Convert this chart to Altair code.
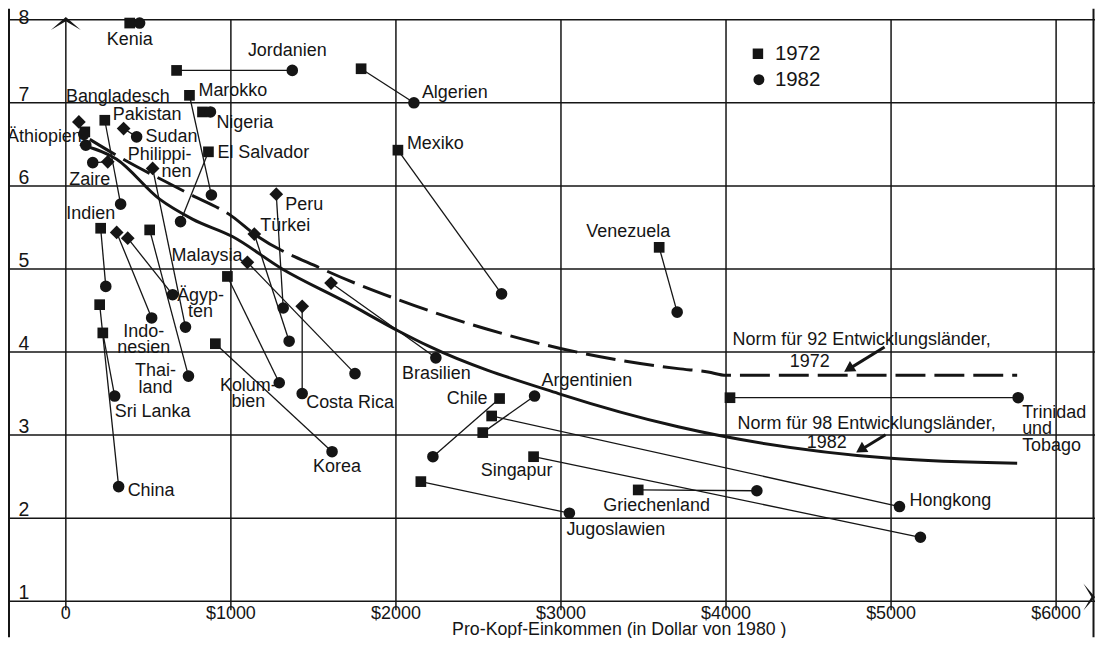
import altair as alt
import pandas as pd

# ---------------- data ----------------
COUNTRIES = ["Kenia", "Jordanien", "Marokko", "Nigeria", "El Salvador", "Bangladesch",
             "Äthiopien", "Pakistan", "Sudan", "Zaire", "Philippinen", "Indien",
             "Indonesien", "Ägypten", "Thailand", "China", "Sri Lanka", "Peru", "Türkei",
             "Malaysia", "Kolumbien", "Costa Rica", "Brasilien", "Korea", "Mexiko",
             "Algerien", "Venezuela", "Chile", "Argentinien", "Hongkong", "Singapur",
             "Griechenland", "Jugoslawien", "Trinidad und Tobago"]
INCOME_1972 = [387, 671, 749, 828, 864, 79, 115, 236, 350, 254, 526, 211, 308, 375, 508,
               205, 224, 1275, 1142, 1100, 979, 1432, 1607, 906, 2012, 1789, 3595, 2628,
               2526, 2580, 2834, 3468, 2151, 4024]
FERTILITY_1972 = [7.96, 7.39, 7.09, 6.89, 6.41, 6.77, 6.65, 6.79, 6.69, 6.29, 6.21, 5.49,
                  5.44, 5.37, 5.47, 4.57, 4.23, 5.90, 5.42, 5.08, 4.91, 4.55, 4.83, 4.10,
                  6.43, 7.41, 5.26, 3.44, 3.03, 3.23, 2.74, 2.34, 2.44, 3.45]
INCOME_1982 = [447, 1372, 882, 876, 695, 121, 109, 332, 429, 163, 725, 242, 520, 647, 743,
               320, 296, 1317, 1353, 1752, 1293, 1432, 2242, 1613, 2640, 2109, 3704, 2224,
               2840, 5051, 5178, 4187, 3051, 5770]
FERTILITY_1982 = [7.96, 7.39, 5.89, 6.89, 5.57, 6.49, 6.62, 5.78, 6.59, 6.28, 4.30, 4.79,
                  4.41, 4.69, 3.71, 2.38, 3.47, 4.53, 4.13, 3.74, 3.63, 3.50, 3.93, 2.80,
                  4.70, 7.00, 4.48, 2.74, 3.47, 2.14, 1.77, 2.33, 2.06, 3.45]

NORM72_INCOME = [145, 296, 731, 1009, 1142, 1553, 2000, 2544, 3003, 3710, 3891, 4000, 5764]
NORM72_FERT = [6.56, 6.38, 5.92, 5.63, 5.42, 5.00, 4.64, 4.28, 4.04, 3.80, 3.76, 3.72, 3.72]
NORM82_INCOME = [85, 308, 568, 767, 1009, 1311, 1698, 2018, 2199, 2985, 3710, 4997, 5764]
NORM82_FERT = [6.50, 6.32, 5.84, 5.60, 5.39, 5.00, 4.60, 4.25, 4.07, 3.50, 3.10, 2.72, 2.66]

X_TICKS = [0, 1000, 2000, 3000, 4000, 5000, 6000]
X_TICK_LABELS = ["0", "$1000", "$2000", "$3000", "$4000", "$5000", "$6000"]
Y_TICKS = [1, 2, 3, 4, 5, 6, 7, 8]
Y_TICK_LABELS = ["1", "2", "3", "4", "5", "6", "7", "8"]
X_TITLE = "Pro-Kopf-Einkommen (in Dollar von 1980 )"
LEGEND_LABELS = ["1972", "1982"]
NORM_TEXTS = ["Norm für 92 Entwicklungsländer,", "1972",
              "Norm für 98 Entwicklungsländer,", "1982"]

# ---------------- styles / layout ----------------
FONT = "Liberation Sans"
INK = "#151515"
W, H = 1090, 630
X0_PX, PX_PER_X = 58.0, 0.1655      # chart pixel of $0, pixels per dollar
Y1_PX, PX_PER_Y = 594.0, 83.3       # chart pixel of fertility 1, pixels per unit
X_MIN = -X0_PX / PX_PER_X
X_MAX = X_MIN + W / PX_PER_X
Y_MAX = 1 + Y1_PX / PX_PER_Y
Y_MIN = Y_MAX - H / PX_PER_Y

DIAMOND_1972 = {"Bangladesch", "Sudan", "Zaire", "Philippinen", "Indonesien", "Ägypten",
                "Peru", "Türkei", "Malaysia", "Costa Rica", "Brasilien"}
DISPLAY = {"Philippinen": "Philippi-\nnen", "Ägypten": "Ägyp-\nten",
           "Indonesien": "Indo-\nnesien", "Thailand": "Thai-\nland",
           "Kolumbien": "Kolum-\nbien", "Trinidad und Tobago": "Trinidad\nund\nTobago"}
# anchor year, pixel offset dx, dy (of the first line), alignment
LABEL_LAYOUT = {
    "Kenia": ("72", 0, 17, "center"), "Jordanien": ("82", -5, -19, "center"),
    "Bangladesch": ("72", -13, -25, "left"), "Marokko": ("72", 9, -4, "left"),
    "Pakistan": ("72", 8, -5, "left"), "Nigeria": ("82", 6, 11, "left"),
    "Äthiopien": ("72", -3, 5, "right"), "Sudan": ("82", 9, 0, "left"),
    "Philippinen": ("72", 39, -13, "right"), "El Salvador": ("72", 9, 1, "left"),
    "Zaire": ("82", -3, 17, "center"), "Peru": ("72", 9, 11, "left"),
    "Indien": ("72", -10, -14, "center"), "Türkei": ("72", 6, -8, "left"),
    "Malaysia": ("72", -5, -6, "right"), "Ägypten": ("82", 28, 1, "center"),
    "Indonesien": ("82", -8, 14, "center"), "Thailand": ("82", -33, -5, "center"),
    "Kolumbien": ("82", -31, 3, "center"), "Costa Rica": ("82", 4, 9, "left"),
    "Sri Lanka": ("82", 0, 16, "left"), "China": ("82", 9, 4, "left"),
    "Korea": ("82", 5, 15, "center"), "Brasilien": ("82", -34, 16, "left"),
    "Argentinien": ("82", 7, -15, "left"), "Chile": ("72", -12, 0, "right"),
    "Singapur": ("72", -17, 14, "center"), "Griechenland": ("72", -35, 16, "left"),
    "Jugoslawien": ("82", -3, 17, "left"), "Mexiko": ("72", 9, -6, "left"),
    "Algerien": ("82", 8, -10, "left"), "Venezuela": ("72", -31, -15, "center"),
    "Hongkong": ("82", 10, -6, "left"), "Trinidad und Tobago": ("82", 4, 15, "left"),
}
Y_TICK_DY = [-2, -2, -2, -2, -2, -2, -2, 4]


def off_x(px):
    return px / PX_PER_X


def off_y(px):
    return -px / PX_PER_Y


def at_x(px):
    return (px - X0_PX) / PX_PER_X


def at_y(py):
    return 1 + (Y1_PX - py) / PX_PER_Y


xs = alt.Scale(domain=[X_MIN, X_MAX], nice=False, zero=False)
ys = alt.Scale(domain=[Y_MIN, Y_MAX], nice=False, zero=False)


def X(f):
    return alt.X(f, type="quantitative", scale=xs, axis=None)


def Y(f):
    return alt.Y(f, type="quantitative", scale=ys, axis=None)


layers = []

# grid + axes
layers.append(alt.Chart(pd.DataFrame({"y": Y_TICKS, "x1": X_MIN, "x2": X_MAX}))
              .mark_rule(color=INK, strokeWidth=1.5)
              .encode(x=X("x1"), x2="x2", y=Y("y")))
layers.append(alt.Chart(pd.DataFrame({"x": X_TICKS, "y1": 8.0, "y2": 0.89}))
              .mark_rule(color=INK, strokeWidth=1.5)
              .encode(x=X("x"), y=Y("y1"), y2="y2"))
# frame (left and right)
layers.append(alt.Chart(pd.DataFrame({"x": [at_x(1), at_x(1088.5)], "y1": Y_MIN, "y2": Y_MAX}))
              .mark_rule(color=INK, strokeWidth=2)
              .encode(x=X("x"), y=Y("y1"), y2="y2"))
# axis arrowheads
layers.append(alt.Chart(pd.DataFrame({"x": [0.0], "y": [at_y(15)]}))
              .mark_point(shape="M0,-0.45L1,0.42L0,-0.18L-1,0.42Z", size=900, filled=True,
                          opacity=1, color=INK, strokeWidth=0)
              .encode(x=X("x"), y=Y("y")))
layers.append(alt.Chart(pd.DataFrame({"x": [at_x(1084)], "y": [1.05]}))
              .mark_point(shape="M0.45,0L-0.42,1L0.18,0L-0.42,-1Z", size=729, filled=True,
                          opacity=1, color=INK, strokeWidth=0)
              .encode(x=X("x"), y=Y("y")))

# norm curves
layers.append(alt.Chart(pd.DataFrame({"x": NORM72_INCOME, "y": NORM72_FERT}))
              .mark_line(color=INK, strokeWidth=3, strokeDash=[30, 9], interpolate="monotone")
              .encode(x=X("x"), y=Y("y")))
layers.append(alt.Chart(pd.DataFrame({"x": NORM82_INCOME, "y": NORM82_FERT}))
              .mark_line(color=INK, strokeWidth=3, interpolate="monotone")
              .encode(x=X("x"), y=Y("y")))

# country segments and markers
df = pd.DataFrame({"name": COUNTRIES, "x72": INCOME_1972, "y72": FERTILITY_1972,
                   "x82": INCOME_1982, "y82": FERTILITY_1982})
df["shape"] = ["diamond" if c in DIAMOND_1972 else "square" for c in COUNTRIES]
df["size"] = [190 if c in DIAMOND_1972 else 115 for c in COUNTRIES]
layers.append(alt.Chart(df).mark_rule(color=INK, strokeWidth=1.3)
              .encode(x=X("x72"), y=Y("y72"), x2="x82", y2="y82"))
layers.append(alt.Chart(df).mark_point(filled=True, opacity=1, color=INK, strokeWidth=0)
              .encode(x=X("x72"), y=Y("y72"),
                      shape=alt.Shape("shape:N", scale=None),
                      size=alt.Size("size:Q", scale=None)))
layers.append(alt.Chart(df).mark_point(shape="circle", filled=True, size=135, opacity=1,
                                       color=INK, strokeWidth=0)
              .encode(x=X("x82"), y=Y("y82")))

# country labels
rows = []
for i, c in enumerate(COUNTRIES):
    yr, dxp, dyp, al = LABEL_LAYOUT[c]
    bx = INCOME_1972[i] if yr == "72" else INCOME_1982[i]
    by = FERTILITY_1972[i] if yr == "72" else FERTILITY_1982[i]
    rows.append({"text": DISPLAY.get(c, c), "x": bx + off_x(dxp), "y": by + off_y(dyp), "align": al})
lab = pd.DataFrame(rows)
for al in ["left", "center", "right"]:
    sub = lab[lab["align"] == al]
    layers.append(alt.Chart(sub).mark_text(align=al, baseline="middle", fontSize=18, font=FONT,
                                           lineBreak="\n", lineHeight=16.5, color=INK)
                  .encode(x=X("x"), y=Y("y"), text="text:N"))

# tick labels
layers.append(alt.Chart(pd.DataFrame({"x": X_TICKS, "t": X_TICK_LABELS, "y": at_y(606.5)}))
              .mark_text(align="center", baseline="middle", fontSize=18, font=FONT, color=INK)
              .encode(x=X("x"), y=Y("y"), text="t:N"))
ytick = pd.DataFrame({"y": [v + off_y(d) for v, d in zip(Y_TICKS, Y_TICK_DY)],
                      "t": Y_TICK_LABELS, "x": at_x(16)})
layers.append(alt.Chart(ytick)
              .mark_text(align="center", baseline="alphabetic", fontSize=19.5, font=FONT,
                         color=INK)
              .encode(x=X("x"), y=Y("y"), text="t:N"))
layers.append(alt.Chart(pd.DataFrame({"x": [at_x(613)], "y": [at_y(627.8)], "t": [X_TITLE]}))
              .mark_text(align="center", baseline="alphabetic", fontSize=17.8, font=FONT, color=INK)
              .encode(x=X("x"), y=Y("y"), text="t:N"))

# legend
layers.append(alt.Chart(pd.DataFrame({"x": [at_x(752)], "y": [at_y(45)]}))
              .mark_point(shape="square", filled=True, size=110, opacity=1, color=INK, strokeWidth=0)
              .encode(x=X("x"), y=Y("y")))
layers.append(alt.Chart(pd.DataFrame({"x": [at_x(753)], "y": [at_y(71)]}))
              .mark_point(shape="circle", filled=True, size=120, opacity=1, color=INK, strokeWidth=0)
              .encode(x=X("x"), y=Y("y")))
layers.append(alt.Chart(pd.DataFrame({"x": [at_x(769)] * 2, "y": [at_y(45), at_y(71)],
                                      "t": LEGEND_LABELS}))
              .mark_text(align="left", baseline="middle", fontSize=20.5, font=FONT, color=INK)
              .encode(x=X("x"), y=Y("y"), text="t:N"))

# norm annotations with arrows
layers.append(alt.Chart(pd.DataFrame({"x": [at_x(856), at_x(804), at_x(861), at_x(821)],
                                      "y": [at_y(332), at_y(354), at_y(416), at_y(435)],
                                      "t": NORM_TEXTS}))
              .mark_text(align="center", baseline="middle", fontSize=18, font=FONT, color=INK)
              .encode(x=X("x"), y=Y("y"), text="t:N"))
layers.append(alt.Chart(pd.DataFrame({"x": [at_x(879), at_x(880)], "y": [at_y(339), at_y(427)],
                                      "x2": [at_x(845), at_x(857)], "y2": [at_y(360), at_y(441)]}))
              .mark_rule(color=INK, strokeWidth=3)
              .encode(x=X("x"), y=Y("y"), x2="x2", y2="y2"))
layers.append(alt.Chart(pd.DataFrame({"x": [at_x(843), at_x(855)], "y": [at_y(361), at_y(442)]}))
              .mark_point(shape="triangle-up", angle=238, size=150, filled=True, opacity=1,
                          color=INK, strokeWidth=0)
              .encode(x=X("x"), y=Y("y")))

chart = (alt.layer(*layers)
         .properties(width=W, height=H, padding=0, autosize=alt.AutoSizeParams(type="none"),
                     background="white")
         .configure_view(strokeWidth=0))

chart.save("out.html", embed_options={"renderer": "svg", "actions": False})
